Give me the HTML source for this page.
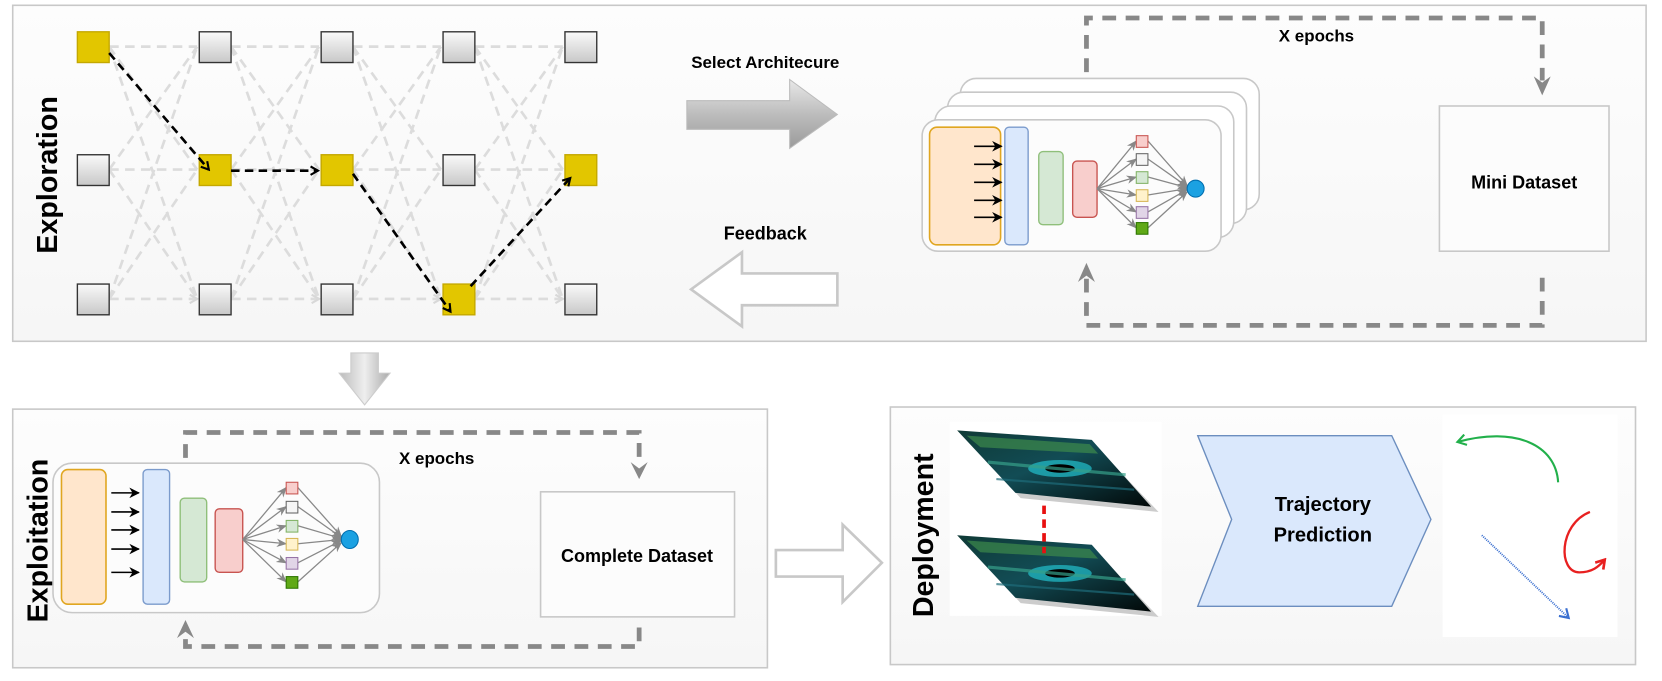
<!DOCTYPE html>
<html><head><meta charset="utf-8"><style>html,body{margin:0;padding:0;background:#fff}svg{display:block}text{font-family:"Liberation Sans",Arial,sans-serif;font-weight:bold}</style></head><body>
<svg width="1662" height="681" viewBox="0 0 1568 642.5" preserveAspectRatio="none" xmlns="http://www.w3.org/2000/svg">
<defs>
<linearGradient id="pg" x1="0" y1="0" x2="0" y2="1"><stop offset="0" stop-color="#fdfdfd"/><stop offset="1" stop-color="#f6f6f6"/></linearGradient>
<linearGradient id="ng" x1="0" y1="0" x2="0" y2="1"><stop offset="0" stop-color="#fafafa"/><stop offset="1" stop-color="#c8c8c8"/></linearGradient>
<linearGradient id="ag" x1="0" y1="0" x2="0" y2="1"><stop offset="0" stop-color="#e8e8e8"/><stop offset="0.5" stop-color="#bdbdbd"/><stop offset="1" stop-color="#9a9a9a"/></linearGradient>
<linearGradient id="dg" x1="0" y1="0" x2="1" y2="0"><stop offset="0" stop-color="#bbb"/><stop offset="0.5" stop-color="#eee"/><stop offset="1" stop-color="#aaa"/></linearGradient>
<linearGradient id="lid" x1="0" y1="0" x2="1" y2="1"><stop offset="0" stop-color="#0f3a36"/><stop offset="0.45" stop-color="#124c55"/><stop offset="1" stop-color="#020808"/></linearGradient>
<marker id="bk" markerWidth="10" markerHeight="10" refX="8" refY="5" orient="auto" markerUnits="userSpaceOnUse"><path d="M1,1 L8,5 L1,9" fill="none" stroke="#000" stroke-width="2"/></marker>
<marker id="lg" markerWidth="10" markerHeight="10" refX="8" refY="5" orient="auto" markerUnits="userSpaceOnUse"><path d="M1,1 L8,5 L1,9" fill="none" stroke="#d8d8d8" stroke-width="2"/></marker>
<marker id="sa" markerWidth="10" markerHeight="10" refX="9" refY="5" orient="auto" markerUnits="userSpaceOnUse"><path d="M0,0 L10,5 L0,10 L3,5z" fill="#000"/></marker>
<marker id="ga" markerWidth="10" markerHeight="10" refX="9" refY="5" orient="auto" markerUnits="userSpaceOnUse"><path d="M0,1 L10,5 L0,9 L3,5z" fill="#888"/></marker>
<marker id="gr" markerWidth="12" markerHeight="12" refX="10" refY="6" orient="auto" markerUnits="userSpaceOnUse"><path d="M2,1 L10,6 L2,11" fill="none" stroke="#22b04b" stroke-width="2"/></marker>
<marker id="bl" markerWidth="12" markerHeight="12" refX="10" refY="6" orient="auto" markerUnits="userSpaceOnUse"><path d="M2,1 L10,6 L2,11" fill="none" stroke="#3a6fd0" stroke-width="2"/></marker>
<marker id="rd" markerWidth="12" markerHeight="12" refX="10" refY="6" orient="auto" markerUnits="userSpaceOnUse"><path d="M2,1 L10,6 L2,11" fill="none" stroke="#e82020" stroke-width="2.5"/></marker>
</defs>

<rect x="12" y="5" width="1541" height="317" fill="url(#pg)" stroke="#c8c8c8" stroke-width="1.5"/>
<rect x="12" y="386" width="712" height="244" fill="url(#pg)" stroke="#c8c8c8" stroke-width="1.5"/>
<rect x="840" y="384" width="703" height="243" fill="url(#pg)" stroke="#c8c8c8" stroke-width="1.5"/>

<text transform="translate(54,165) rotate(-90)" text-anchor="middle" font-size="27">Exploration</text>
<text transform="translate(45,510) rotate(-90)" text-anchor="middle" font-size="27">Exploitation</text>
<text transform="translate(880,505) rotate(-90)" text-anchor="middle" font-size="27">Deployment</text>

<g stroke="#dcdcdc" stroke-width="2.5" stroke-dasharray="9,6" fill="none" marker-end="url(#lg)">
<path d="M103,44 L186,44 M103,44 L186,160 M103,44 L186,282 M103,160 L186,44 M103,160 L186,160 M103,160 L186,282 M103,282 L186,44 M103,282 L186,160 M103,282 L186,282"/>
<path d="M218,44 L301,44 M218,44 L301,160 M218,44 L301,282 M218,160 L301,44 M218,160 L301,160 M218,160 L301,282 M218,282 L301,44 M218,282 L301,160 M218,282 L301,282"/>
<path d="M333,44 L416,44 M333,44 L416,160 M333,44 L416,282 M333,160 L416,44 M333,160 L416,160 M333,160 L416,282 M333,282 L416,44 M333,282 L416,160 M333,282 L416,282"/>
<path d="M448,44 L531,44 M448,44 L531,160 M448,44 L531,282 M448,160 L531,44 M448,160 L531,160 M448,160 L531,282 M448,282 L531,44 M448,282 L531,160 M448,282 L531,282"/>
</g>
<g stroke="#333" stroke-width="1.3" fill="url(#ng)">
<rect x="188" y="30" width="30" height="29"/><rect x="303" y="30" width="30" height="29"/><rect x="418" y="30" width="30" height="29"/><rect x="533" y="30" width="30" height="29"/>
<rect x="73" y="146" width="30" height="29"/><rect x="418" y="146" width="30" height="29"/>
<rect x="73" y="268" width="30" height="29"/><rect x="188" y="268" width="30" height="29"/><rect x="303" y="268" width="30" height="29"/><rect x="533" y="268" width="30" height="29"/>
</g>
<g fill="#e2c600" stroke="#c4a800" stroke-width="1.3">
<rect x="73" y="30" width="30" height="29"/><rect x="188" y="146" width="30" height="29"/><rect x="303" y="146" width="30" height="29"/><rect x="418" y="268" width="30" height="29"/><rect x="533" y="146" width="30" height="29"/>
</g>
<g stroke="#000" stroke-width="2.5" stroke-dasharray="8,5" fill="none" marker-end="url(#bk)">
<path d="M103,50 L197,160"/><path d="M218,161 L300,161"/><path d="M333,164 L425,294"/><path d="M444,270 L538,168"/>
</g>

<text x="722" y="64" text-anchor="middle" font-size="16">Select Architecure</text>
<path d="M648,95 L745,95 L745,75 L790,108 L745,140 L745,122 L648,122z" fill="url(#ag)" stroke="#bbb"/>
<text x="722" y="226" text-anchor="middle" font-size="17">Feedback</text>
<path d="M790,258 L700,258 L700,238 L652,273 L700,308 L700,288 L790,288z" fill="#fff" stroke="#c8c8c8" stroke-width="2.5"/>

<g fill="#fff" stroke="#c8c8c8" stroke-width="1.5">
<rect x="906" y="74" width="282" height="124" rx="15"/>
<rect x="894" y="87" width="282" height="124" rx="15"/>
<rect x="882" y="100" width="282" height="124" rx="15"/>
<rect x="870" y="113" width="282" height="124" rx="15" fill="#fcfcfc"/>
</g>
<g>
<rect x="877" y="120" width="67" height="111" rx="7" fill="#ffe6cc" stroke="#e0a620" stroke-width="1.5"/>
<g stroke="#000" stroke-width="1.5" marker-end="url(#sa)"><path d="M919,138 L945,138"/><path d="M919,155 L945,155"/><path d="M919,172 L945,172"/><path d="M919,189 L945,189"/><path d="M919,205 L945,205"/></g>
<rect x="948" y="120" width="22" height="111" rx="4" fill="#dae8fc" stroke="#7b9bcc" stroke-width="1.3"/>
<rect x="980" y="143" width="23" height="69" rx="4" fill="#d5e8d4" stroke="#8fbf7a" stroke-width="1.3"/>
<rect x="1012" y="152" width="23" height="53" rx="4" fill="#f8cecc" stroke="#c85450" stroke-width="1.3"/>
<g stroke="#888" stroke-width="1.2" marker-end="url(#ga)"><path d="M1035,178 L1072,133"/><path d="M1035,178 L1072,150"/><path d="M1035,178 L1072,167"/><path d="M1035,178 L1072,184"/><path d="M1035,178 L1072,200"/><path d="M1035,178 L1072,215"/>
<path d="M1083,133 L1120,175"/><path d="M1083,150 L1120,176"/><path d="M1083,167 L1120,177"/><path d="M1083,184 L1120,178"/><path d="M1083,200 L1120,179"/><path d="M1083,215 L1120,181"/></g>
<rect x="1072" y="128" width="11" height="11" fill="#f8cecc" stroke="#c85450"/>
<rect x="1072" y="145" width="11" height="11" fill="#f5f5f5" stroke="#666"/>
<rect x="1072" y="162" width="11" height="11" fill="#d5e8d4" stroke="#82b366"/>
<rect x="1072" y="179" width="11" height="11" fill="#fff2cc" stroke="#d6b656"/>
<rect x="1072" y="195" width="11" height="11" fill="#e1d5e7" stroke="#9673a6"/>
<rect x="1072" y="210" width="11" height="11" fill="#60a917" stroke="#2d7600"/>
<ellipse cx="1128" cy="178" rx="8" ry="8" fill="#1ba1e2" stroke="#006eaf"/>
</g>

<rect x="1358" y="100" width="160" height="137" fill="#fcfcfc" stroke="#c8c8c8" stroke-width="1.5"/>
<text x="1438" y="178" text-anchor="middle" font-size="17">Mini Dataset</text>
<g stroke="#888" stroke-width="4.5" stroke-dasharray="13,9" fill="none">
<path d="M1025,68 L1025,17 L1455,17 L1455,76"/>
<path d="M1455,262 L1455,307 L1025,307 L1025,262"/>
</g>
<path d="M1447,72 L1455,90 L1463,72 L1455,78z" fill="#888"/>
<path d="M1017,266 L1025,248 L1033,266 L1025,260z" fill="#888"/>
<text x="1242" y="39" text-anchor="middle" font-size="16">X epochs</text>

<path d="M331,333 L357,333 L357,352 L368,352 L344,382 L320,352 L331,352z" fill="url(#dg)" stroke="#ccc"/>

<rect x="50" y="437" width="308" height="141" rx="18" fill="#fcfcfc" stroke="#c8c8c8" stroke-width="1.5"/>
<g transform="translate(-819,323)">
<rect x="877" y="120" width="42" height="127" rx="6" fill="#ffe6cc" stroke="#e0a620" stroke-width="1.5"/>
<g stroke="#000" stroke-width="1.5" marker-end="url(#sa)"><path d="M924,142 L950,142"/><path d="M924,160 L950,160"/><path d="M924,177 L950,177"/><path d="M924,195 L950,195"/><path d="M924,217 L950,217"/></g>
<rect x="954" y="120" width="25" height="127" rx="4" fill="#dae8fc" stroke="#7b9bcc" stroke-width="1.3"/>
<rect x="989" y="147" width="25" height="79" rx="4" fill="#d5e8d4" stroke="#8fbf7a" stroke-width="1.3"/>
<rect x="1022" y="157" width="26" height="60" rx="4" fill="#f8cecc" stroke="#c85450" stroke-width="1.3"/>
<g stroke="#888" stroke-width="1.2" marker-end="url(#ga)"><path d="M1048,186 L1089,137"/><path d="M1048,186 L1089,155"/><path d="M1048,186 L1089,173"/><path d="M1048,186 L1089,190"/><path d="M1048,186 L1089,208"/><path d="M1048,186 L1089,226"/>
<path d="M1100,137 L1141,183"/><path d="M1100,155 L1141,184"/><path d="M1100,173 L1141,185"/><path d="M1100,190 L1141,186"/><path d="M1100,208 L1141,187"/><path d="M1100,226 L1141,189"/></g>
<rect x="1089" y="132" width="11" height="11" fill="#f8cecc" stroke="#c85450"/>
<rect x="1089" y="150" width="11" height="11" fill="#f5f5f5" stroke="#666"/>
<rect x="1089" y="168" width="11" height="11" fill="#d5e8d4" stroke="#82b366"/>
<rect x="1089" y="185" width="11" height="11" fill="#fff2cc" stroke="#d6b656"/>
<rect x="1089" y="203" width="11" height="11" fill="#e1d5e7" stroke="#9673a6"/>
<rect x="1089" y="221" width="11" height="11" fill="#60a917" stroke="#2d7600"/>
<ellipse cx="1149" cy="186" rx="8" ry="8.5" fill="#1ba1e2" stroke="#006eaf"/>
</g>
<rect x="510" y="464" width="183" height="118" fill="#fcfcfc" stroke="#c8c8c8" stroke-width="1.5"/>
<text x="601" y="530" text-anchor="middle" font-size="17">Complete Dataset</text>
<g stroke="#888" stroke-width="4.5" stroke-dasharray="13,9" fill="none">
<path d="M175,432 L175,408 L603,408 L603,440"/>
<path d="M603,592 L603,610 L175,610 L175,598"/>
</g>
<path d="M595,436 L603,452 L611,436 L603,442z" fill="#888"/>
<path d="M167,602 L175,585 L183,602 L175,596z" fill="#888"/>
<text x="412" y="438" text-anchor="middle" font-size="16">X epochs</text>

<path d="M732,519 L795,519 L795,495 L832,531 L795,568 L795,544 L732,544z" fill="#fff" stroke="#c8c8c8" stroke-width="2.5"/>

<rect x="896" y="398" width="200" height="183" fill="#fff"/>
<g id="lidar1">
<path d="M905,408 L1030,417 L1090,480 L960,467z" fill="#999" opacity="0.5" transform="translate(3,3)"/>
<path d="M903,406 L1030,415 L1086,478 L958,465z" fill="url(#lid)"/>
<path d="M912,411 L1028,419 L1036,428 L925,422z" fill="#3d8a4c" opacity="0.7"/>
<ellipse cx="1000" cy="442" rx="30" ry="8" fill="#22b8c4" opacity="0.75"/>
<ellipse cx="1000" cy="442" rx="14" ry="4" fill="#000"/>
<path d="M932,436 L1062,448" stroke="#36a08a" stroke-width="3" opacity="0.7"/>
<path d="M940,452 L1070,462" stroke="#1e6c7a" stroke-width="2" opacity="0.7"/>
</g>
<g transform="translate(0,99)">
<path d="M905,408 L1030,417 L1090,480 L960,467z" fill="#999" opacity="0.5" transform="translate(3,3)"/>
<path d="M903,406 L1030,415 L1086,478 L958,465z" fill="url(#lid)"/>
<path d="M912,411 L1028,419 L1036,428 L925,422z" fill="#3d8a4c" opacity="0.7"/>
<ellipse cx="1000" cy="442" rx="30" ry="8" fill="#22b8c4" opacity="0.75"/>
<ellipse cx="1000" cy="442" rx="14" ry="4" fill="#000"/>
<path d="M932,436 L1062,448" stroke="#36a08a" stroke-width="3" opacity="0.7"/>
<path d="M940,452 L1070,462" stroke="#1e6c7a" stroke-width="2" opacity="0.7"/>
</g>
<path d="M985,477 L985,522" stroke="#e81010" stroke-width="3.5" stroke-dasharray="8,5"/>

<path d="M1130,411 L1313,411 L1350,490 L1313,572 L1130,572 L1162,490z" fill="#dae8fc" stroke="#6c8ebf" stroke-width="1.3"/>
<text x="1248" y="482" text-anchor="middle" font-size="19">Trajectory</text>
<text x="1248" y="511" text-anchor="middle" font-size="19">Prediction</text>

<rect x="1361" y="391" width="165" height="210" fill="#fff"/>
<path d="M1470,455 C1468,420 1430,402 1375,417" fill="none" stroke="#22b04b" stroke-width="2" marker-end="url(#gr)"/>
<path d="M1500,483 C1470,495 1470,540 1490,540 C1502,540 1508,535 1514,528" fill="none" stroke="#e82020" stroke-width="2.2" marker-end="url(#rd)"/>
<path d="M1398,505 L1480,583" fill="none" stroke="#3a6fd0" stroke-width="1.8" stroke-dasharray="1" marker-end="url(#bl)"/>
</svg>
</body></html>
